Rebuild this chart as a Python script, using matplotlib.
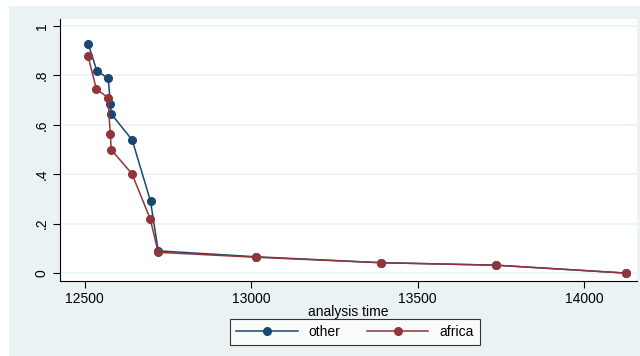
import matplotlib
matplotlib.use("Agg")
import matplotlib.pyplot as plt
from matplotlib.patches import Rectangle

plt.rcParams['font.family'] = ['Liberation Sans', 'DejaVu Sans']

# survival estimates
other_t = [12511, 12537, 12571, 12577, 12580, 12643, 12698, 12721, 13015, 13390, 13735, 14126]
other_s = [0.927, 0.817, 0.788, 0.686, 0.644, 0.538, 0.290, 0.090, 0.066, 0.042, 0.032, 0.0]
africa_t = [12510, 12535, 12570, 12577, 12580, 12642, 12697, 12721, 13015, 13390, 13735, 14126]
africa_s = [0.879, 0.745, 0.710, 0.563, 0.499, 0.402, 0.219, 0.084, 0.064, 0.042, 0.032, 0.0]
yticks = [0, 0.2, 0.4, 0.6, 0.8, 1]
ylabels = ["0", ".2", ".4", ".6", ".8", "1"]
xticks = [12500, 13000, 13500, 14000]

W, H = 640, 356
fig = plt.figure(figsize=(W / 100, H / 100), dpi=100)
fig.patch.set_facecolor('white')
band = '#eaf2f3'
# stata style outer band
fig.patches.append(Rectangle((9 / W, 0), 1, 1 - 6 / H, transform=fig.transFigure,
                             facecolor=band, edgecolor='none', zorder=-10))

ax = fig.add_axes([60 / W, 1 - 281 / H, (637 - 60) / W, (281 - 19) / H])
ax.set_facecolor('white')

blue = '#1a476f'
red = '#90353b'
ax.plot(other_t, other_s, color=blue, lw=1.1, marker='o', ms=5.5, label='other', zorder=3)
ax.plot(africa_t, africa_s, color=red, lw=1.1, marker='o', ms=5.5, label='africa', zorder=4)

ax.set_xlim(12426, 14159)
ax.set_ylim(-0.032, 1.028)
ax.set_xticks(xticks)
ax.set_yticks(yticks)
ax.set_yticklabels(ylabels, rotation=90, va='center')
ax.yaxis.grid(True, color=band, lw=1.2)
ax.set_axisbelow(True)
for s in ['top', 'right']:
    ax.spines[s].set_visible(False)
for s in ['left', 'bottom']:
    ax.spines[s].set_color('black')
    ax.spines[s].set_linewidth(0.8)
ax.tick_params(axis='both', labelsize=10, length=5, width=0.8, colors='black', pad=3)
ax.set_xlabel('analysis time', fontsize=10, labelpad=-1)

leg = fig.legend(loc='center', bbox_to_anchor=(355 / W, 1 - 332 / H), ncol=2,
                 fontsize=10, frameon=True, fancybox=False, edgecolor='black',
                 handlelength=4.4, columnspacing=1.9, borderpad=0.45, handletextpad=0.8,
                 borderaxespad=0)
leg.get_frame().set_linewidth(0.8)

fig.savefig('out.png', dpi=100, facecolor=fig.get_facecolor())
